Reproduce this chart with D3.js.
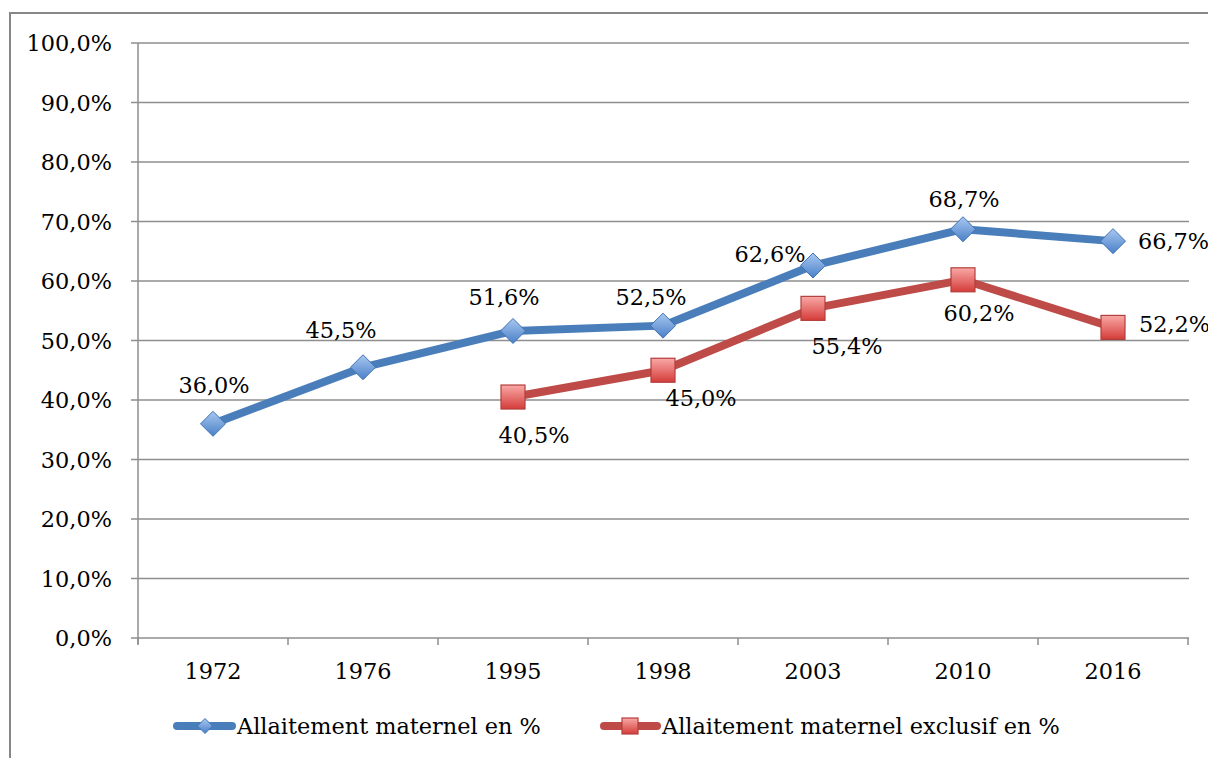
<!DOCTYPE html>
<html><head><meta charset="utf-8">
<script src="https://cdn.jsdelivr.net/npm/d3@7"></script>
<style>html,body{margin:0;padding:0;background:#fff;}svg{display:block;}</style>
</head><body>
<svg id="c" width="1208" height="758"></svg>
<script>
const categories = ["1972","1976","1995","1998","2003","2010","2016"];
const seriesNames = ["Allaitement maternel en %","Allaitement maternel exclusif en %"];
const blueValues = [36.0,45.5,51.6,52.5,62.6,68.7,66.7];
const redValues = [null,null,40.5,45.0,55.4,60.2,52.2];
const yTicks = [0,10,20,30,40,50,60,70,80,90,100];

// label offsets (style, relative to point)
const blueLabelOff = [[1,-39],[-22,-37],[-9,-34],[-12,-29],[-43,-12],[1,-30],[25,0,"start"]];
const redLabelOff = [null,null,[21,38],[38,28],[34,38],[16,33],[26,-3,"start"]];

const svg = d3.select("#c");
const FONT = "'DejaVu Serif', serif";
const FS = 22.4;

// frame
svg.append("path").attr("d","M10,758 L10,13 L1208,13").attr("fill","none").attr("stroke","#878787").attr("stroke-width",2);

const x = d3.scaleBand().domain(categories).range([138,1188]).paddingInner(0).paddingOuter(0);
const y = d3.scaleLinear().domain([0,100]).range([638,43]);
const cx = c => x(c)+x.bandwidth()/2;

const defs = svg.append("defs");
const gb = defs.append("linearGradient").attr("id","gb").attr("x1",0).attr("y1",0).attr("x2",0).attr("y2",1);
gb.append("stop").attr("offset","0%").attr("stop-color","#a9c8f0");
gb.append("stop").attr("offset","100%").attr("stop-color","#4a80c8");
const gr = defs.append("linearGradient").attr("id","gr").attr("x1",0).attr("y1",0).attr("x2",0).attr("y2",1);
gr.append("stop").attr("offset","0%").attr("stop-color","#f9a9a7");
gr.append("stop").attr("offset","100%").attr("stop-color","#d43c39");

// gridlines
svg.append("g").selectAll("line").data(yTicks).join("line")
  .attr("x1",131).attr("x2",1189).attr("y1",d=>y(d)).attr("y2",d=>y(d))
  .attr("stroke","#8e8e8e").attr("stroke-width",1.5);
// y axis line
svg.append("line").attr("x1",138).attr("x2",138).attr("y1",y(100)).attr("y2",y(0)+6).attr("stroke","#8e8e8e").attr("stroke-width",1.5);
// x ticks at band boundaries
const bounds = categories.map(c=>x(c)).concat([x(categories[categories.length-1])+x.bandwidth()]);
svg.append("g").selectAll("line").data(bounds).join("line")
  .attr("x1",d=>d).attr("x2",d=>d).attr("y1",y(0)).attr("y2",y(0)+7)
  .attr("stroke","#8e8e8e").attr("stroke-width",1.5);

// y labels
svg.append("g").selectAll("text").data(yTicks).join("text")
  .attr("x",112).attr("y",d=>y(d)).attr("text-anchor","end").attr("dominant-baseline","central")
  .attr("font-family",FONT).attr("font-size",FS).attr("fill","#000")
  .text(d=>d.toFixed(1).replace(".",",")+"%");
// x labels
svg.append("g").selectAll("text").data(categories).join("text")
  .attr("x",d=>cx(d)).attr("y",671).attr("text-anchor","middle").attr("dominant-baseline","central")
  .attr("font-family",FONT).attr("font-size",FS).attr("fill","#000").text(d=>d);

const line = d3.line().defined(d=>d.v!=null).x(d=>cx(d.c)).y(d=>y(d.v));
const blue = categories.map((c,i)=>({c,v:blueValues[i],i}));
const red = categories.map((c,i)=>({c,v:redValues[i],i}));

svg.append("path").datum(blue).attr("d",line).attr("fill","none").attr("stroke","#4a7ebb").attr("stroke-width",8).attr("stroke-linejoin","round").attr("stroke-linecap","round");
svg.append("path").datum(red).attr("d",line).attr("fill","none").attr("stroke","#be4b48").attr("stroke-width",8).attr("stroke-linejoin","round").attr("stroke-linecap","round");

function diamond(g,px,py,r){
  g.append("path").attr("d",`M${px},${py-r} L${px+r},${py} L${px},${py+r} L${px-r},${py} Z`)
   .attr("fill","url(#gb)").attr("stroke","#3f73b5").attr("stroke-width",1);
}
function square(g,px,py,s){
  g.append("rect").attr("x",px-s/2).attr("y",py-s/2).attr("width",s).attr("height",s)
   .attr("fill","url(#gr)").attr("stroke","#b33f3c").attr("stroke-width",1.2);
}
const mk = svg.append("g");
blue.filter(d=>d.v!=null).forEach(d=>diamond(mk,cx(d.c),y(d.v),12.5));
red.filter(d=>d.v!=null).forEach(d=>square(mk,cx(d.c),y(d.v),24));

// data labels
const fmt = v=>v.toFixed(1).replace(".",",")+"%";
const lab = svg.append("g").attr("font-family",FONT).attr("font-size",FS).attr("fill","#000");
blue.forEach(d=>{ if(d.v==null) return; const o=blueLabelOff[d.i];
  lab.append("text").attr("x",cx(d.c)+o[0]).attr("y",y(d.v)+o[1]).attr("text-anchor",o[2]||"middle").attr("dominant-baseline","central").text(fmt(d.v));});
red.forEach(d=>{ if(d.v==null) return; const o=redLabelOff[d.i];
  lab.append("text").attr("x",cx(d.c)+o[0]).attr("y",y(d.v)+o[1]).attr("text-anchor",o[2]||"middle").attr("dominant-baseline","central").text(fmt(d.v));});

// legend
const lg = svg.append("g");
const ly = 726;
lg.append("line").attr("x1",177).attr("x2",232).attr("y1",ly).attr("y2",ly).attr("stroke","#4a7ebb").attr("stroke-width",8).attr("stroke-linecap","round");
diamond(lg,205,ly,7.5);
lg.append("text").attr("x",237).attr("y",ly).attr("dominant-baseline","central").attr("font-family",FONT).attr("font-size",FS).text(seriesNames[0]);
lg.append("line").attr("x1",604).attr("x2",657).attr("y1",ly).attr("y2",ly).attr("stroke","#be4b48").attr("stroke-width",8).attr("stroke-linecap","round");
square(lg,630,ly,16);
lg.append("text").attr("x",662).attr("y",ly).attr("dominant-baseline","central").attr("font-family",FONT).attr("font-size",FS).text(seriesNames[1]);
</script>
</body></html>
